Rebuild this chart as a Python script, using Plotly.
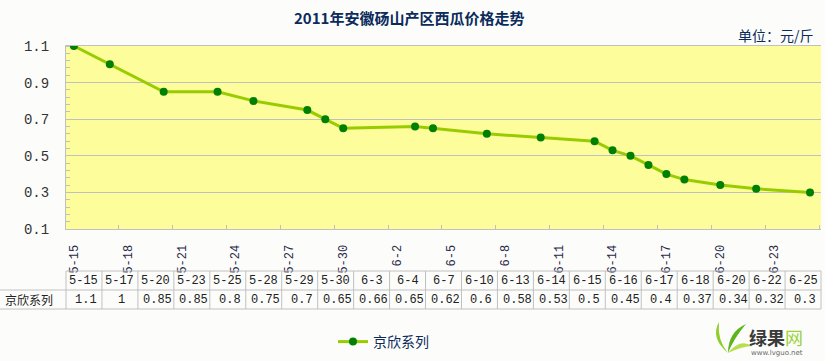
import plotly.graph_objects as go

title_text = "2011年安徽砀山产区西瓜价格走势"
unit_text = "单位：元/斤"
series_name = "京欣系列"
dates = ["5-15", "5-17", "5-20", "5-23", "5-25", "5-28", "5-29", "5-30", "6-3", "6-4", "6-7",
         "6-10", "6-13", "6-14", "6-15", "6-16", "6-17", "6-18", "6-20", "6-22", "6-25"]
prices = [1.1, 1, 0.85, 0.85, 0.8, 0.75, 0.7, 0.65, 0.66, 0.65, 0.62,
          0.6, 0.58, 0.53, 0.5, 0.45, 0.4, 0.37, 0.34, 0.32, 0.3]
axis_tick_labels = ["5-15", "5-18", "5-21", "5-24", "5-27", "5-30", "6-2", "6-5",
                    "6-8", "6-11", "6-14", "6-17", "6-20", "6-23"]
y_ticks = [0.1, 0.3, 0.5, 0.7, 0.9, 1.1]
price_labels = ["1.1", "1", "0.85", "0.85", "0.8", "0.75", "0.7", "0.65", "0.66", "0.65", "0.62",
                "0.6", "0.58", "0.53", "0.5", "0.45", "0.4", "0.37", "0.34", "0.32", "0.3"]


def iso(d):
    m, dd = d.split("-")
    return f"2011-{int(m):02d}-{int(dd):02d}"


W, H = 825, 361
L, R, T, B = 66, 4, 46, 132
PW, PH = W - L - R, H - T - B


def px(x):
    return (x - L) / PW


def py(y):
    return (H - B - y) / PH


MONO = "Liberation Mono, Noto Sans CJK SC, sans-serif"
CJK = "Noto Sans CJK SC, sans-serif"
NAVY = "#0b2b5b"
GRID = "#c0c0c0"

fig = go.Figure()
fig.add_trace(go.Scatter(
    x=[iso(d) for d in dates], y=prices, name=series_name, mode="lines+markers",
    line=dict(color="#99cc00", width=3),
    marker=dict(color="#008000", size=8),
))

shapes = []
annotations = []


def ann(x, y, text, size, color, family=MONO, xanchor="center"):
    annotations.append(dict(x=x, y=y, xref="paper", yref="paper", text=text, showarrow=False,
                            xanchor=xanchor, yanchor="middle",
                            font=dict(family=family, size=size, color=color)))


# data table
n = len(dates)
y_top, y_mid, y_bot = py(271), py(290), py(309)
shapes.append(dict(type="line", xref="paper", yref="paper", x0=0, x1=1, y0=y_top, y1=y_top,
                   line=dict(color=GRID, width=1)))
for yy in (y_mid, y_bot):
    shapes.append(dict(type="line", xref="paper", yref="paper", x0=px(0), x1=1, y0=yy, y1=yy,
                       line=dict(color=GRID, width=1)))
for i in range(n + 1):
    shapes.append(dict(type="line", xref="paper", yref="paper", x0=i / n, x1=i / n, y0=y_top, y1=y_bot,
                       line=dict(color=GRID, width=1)))
for i, (d, v) in enumerate(zip(dates, price_labels)):
    cx = (i + 0.5) / n
    ann(cx, (y_top + y_mid) / 2, d, 12, "#222222")
    ann(cx + px(L + 2), (y_mid + y_bot) / 2, v, 12, "#222222")
ann(px(3), (y_mid + y_bot) / 2, series_name, 12, "#222222", family=CJK, xanchor="left")

# title and unit
ann(px(409), py(17), "<b>" + title_text + "</b>", 15, NAVY, family=CJK)
ann(px(816), py(35), unit_text, 14, NAVY, family=CJK, xanchor="right")

# logo
leaf1 = "M %f %f Q %f %f %f %f Q %f %f %f %f Z" % (
    px(728), py(353), px(710), py(338), px(719), py(322), px(717), py(340), px(728), py(353))
leaf2 = "M %f %f Q %f %f %f %f Q %f %f %f %f Z" % (
    px(728), py(353), px(728), py(332), px(746), py(324), px(734), py(338), px(728), py(353))
leaf3 = "M %f %f Q %f %f %f %f Q %f %f %f %f Z" % (
    px(728), py(353), px(740), py(338), px(752), py(346), px(740), py(347), px(728), py(353))
for p, c in ((leaf1, "#8fce2a"), (leaf2, "#5fb31e"), (leaf3, "#b7de4c")):
    shapes.append(dict(type="path", xref="paper", yref="paper", path=p, fillcolor=c,
                       line=dict(width=0)))
ann(px(747), py(337), "<b>绿果</b><span style='color:#9ad23a'>网</span>", 18, "#3a3a3a",
    family=CJK, xanchor="left")
ann(px(749), py(353), "www.lvguo.net", 7, "#666666", family="DejaVu Sans, sans-serif", xanchor="left")

fig.update_layout(
    width=W, height=H,
    margin=dict(l=L, r=R, t=T, b=B, pad=0, autoexpand=False),
    paper_bgcolor="#fcfdfb",
    plot_bgcolor="#fdfd9b",
    showlegend=True,
    legend=dict(orientation="h", x=px(333), y=py(342), xanchor="left", yanchor="middle",
                font=dict(family=CJK, size=14, color=NAVY), bgcolor="rgba(0,0,0,0)"),
    shapes=shapes,
    annotations=annotations,
    xaxis=dict(
        type="date",
        automargin=False,
        range=["2011-05-14 13:26", "2011-06-25 14:40"],
        tickvals=[iso(t) for t in axis_tick_labels],
        ticktext=axis_tick_labels,
        tickangle=-90,
        ticks="",
        ticklabelstandoff=10,
        tickfont=dict(family=MONO, size=12, color="#2a2a4a"),
        showgrid=False,
        showline=True, linecolor=GRID, linewidth=1, mirror=True,
        minor=dict(ticks="inside", ticklen=4, tickcolor=GRID,
                   tick0="2011-05-17 12:00", dtick=3 * 86400000, showgrid=False),
        zeroline=False,
    ),
    yaxis=dict(
        automargin=False,
        range=[0.1, 1.1],
        tickvals=y_ticks,
        ticktext=[f"{v:.1f}" for v in y_ticks],
        ticks="",
        ticklabelstandoff=13,
        tickfont=dict(family=MONO, size=14, color="#333333"),
        showgrid=True, gridcolor=GRID, gridwidth=1,
        showline=True, linecolor=GRID, linewidth=1,
        minor=dict(ticks="inside", ticklen=4, tickcolor=GRID, dtick=0.04, tick0=0.1, showgrid=False),
        zeroline=False,
    ),
)

fig.write_html("out.html", config={"displayModeBar": False},
               post_script="document.body.style.margin='0px';")
